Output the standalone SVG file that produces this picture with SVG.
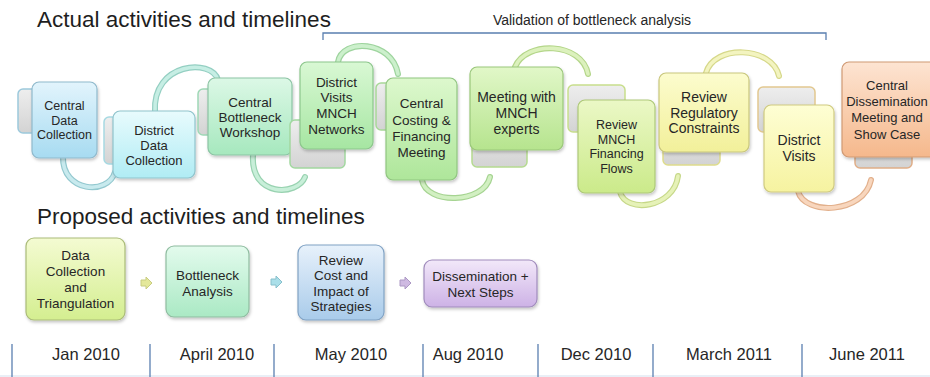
<svg xmlns="http://www.w3.org/2000/svg" width="930" height="377" viewBox="0 0 930 377">
<style>
.title{font-family:"Liberation Sans",Arial,sans-serif;font-size:22.5px;fill:#1e1e1e}
.t{font-family:"Liberation Sans",Arial,sans-serif;fill:#262626;text-anchor:middle}
.lbl{font-family:"Liberation Sans",Arial,sans-serif;font-size:16.5px;fill:#262626;text-anchor:middle}
.box{stroke-width:1.2;filter:url(#sh)}
.back{fill:url(#gray);stroke-width:1.5}
.tick{stroke:#5a7fb0;stroke-width:1.3;fill:none}
.arcO{fill:none;stroke-width:6;stroke-linecap:round}
.arcI{fill:none;stroke-width:3.6;stroke-linecap:round}
.arr{stroke-width:1}
</style>
<defs>
<filter id="sh" x="-10%" y="-10%" width="130%" height="130%"><feDropShadow dx="1" dy="2" stdDeviation="1.5" flood-color="#000" flood-opacity="0.22"/></filter>
<linearGradient id="gray" x1="0" y1="0" x2="0" y2="1"><stop offset="0" stop-color="#eeeeee"/><stop offset="1" stop-color="#d3d3d3"/></linearGradient>
<linearGradient id="g1" x1="0" y1="0" x2="0" y2="1"><stop offset="0" stop-color="#e2f4fc"/><stop offset="1" stop-color="#a7dbf1"/></linearGradient>
<linearGradient id="g2" x1="0" y1="0" x2="0" y2="1"><stop offset="0" stop-color="#e8fbfd"/><stop offset="1" stop-color="#b0ecf4"/></linearGradient>
<linearGradient id="g3" x1="0" y1="0" x2="0" y2="1"><stop offset="0" stop-color="#dcf8e6"/><stop offset="1" stop-color="#a6e8be"/></linearGradient>
<linearGradient id="g4" x1="0" y1="0" x2="0" y2="1"><stop offset="0" stop-color="#d9f8d4"/><stop offset="1" stop-color="#a6e6a2"/></linearGradient>
<linearGradient id="g5" x1="0" y1="0" x2="0" y2="1"><stop offset="0" stop-color="#ddf8cd"/><stop offset="1" stop-color="#aee69a"/></linearGradient>
<linearGradient id="g6" x1="0" y1="0" x2="0" y2="1"><stop offset="0" stop-color="#e1f7c8"/><stop offset="1" stop-color="#b6e48e"/></linearGradient>
<linearGradient id="g7" x1="0" y1="0" x2="0" y2="1"><stop offset="0" stop-color="#ebf8c6"/><stop offset="1" stop-color="#cbea8a"/></linearGradient>
<linearGradient id="g8" x1="0" y1="0" x2="0" y2="1"><stop offset="0" stop-color="#fcfcce"/><stop offset="1" stop-color="#f2f09a"/></linearGradient>
<linearGradient id="g9" x1="0" y1="0" x2="0" y2="1"><stop offset="0" stop-color="#fefed4"/><stop offset="1" stop-color="#f6f3a0"/></linearGradient>
<linearGradient id="g10" x1="0" y1="0" x2="0" y2="1"><stop offset="0" stop-color="#fde4d2"/><stop offset="1" stop-color="#f5b88c"/></linearGradient>
<linearGradient id="pA" x1="0" y1="0" x2="0" y2="1"><stop offset="0" stop-color="#f4fbd2"/><stop offset="1" stop-color="#d4ee90"/></linearGradient>
<linearGradient id="pB" x1="0" y1="0" x2="0" y2="1"><stop offset="0" stop-color="#e3fbed"/><stop offset="1" stop-color="#aae9c4"/></linearGradient>
<linearGradient id="pC" x1="0" y1="0" x2="0" y2="1"><stop offset="0" stop-color="#e7f1fb"/><stop offset="1" stop-color="#a9cbea"/></linearGradient>
<linearGradient id="pD" x1="0" y1="0" x2="0" y2="1"><stop offset="0" stop-color="#f2e8f9"/><stop offset="1" stop-color="#cdb2e6"/></linearGradient>
</defs>
<rect x="0" y="0" width="930" height="377" fill="#ffffff"/>

<g id="headings">
<text class="title" x="37" y="27">Actual activities and timelines</text>
<text class="title" x="37" y="224">Proposed activities and timelines</text>
<text class="t" x="592" y="25" style="font-size:14px">Validation of bottleneck analysis</text>
<path class="tick" d="M323 40 V33 H826 V40"/>
</g>

<g id="connectors">
<path class="arcO" stroke="#93c8cf" d="M63 157 C62 192 108 196 115 172"/>
<path class="arcI" stroke="#c8eaee" d="M63 157 C62 192 108 196 115 172"/>
<path class="arcO" stroke="#94cfc2" d="M155 112 C152 62 212 58 218 80"/>
<path class="arcI" stroke="#c6eee4" d="M155 112 C152 62 212 58 218 80"/>
<path class="arcO" stroke="#98d2b0" d="M253 155 C250 198 298 196 305 177"/>
<path class="arcI" stroke="#c8efd9" d="M253 155 C250 198 298 196 305 177"/>
<path class="arcO" stroke="#9ed49e" d="M338 62 C342 38 392 40 398 74"/>
<path class="arcI" stroke="#ccf0cc" d="M338 62 C342 38 392 40 398 74"/>
<path class="arcO" stroke="#a6d492" d="M422 180 C426 205 484 204 490 177"/>
<path class="arcI" stroke="#d2f0c2" d="M422 180 C426 205 484 204 490 177"/>
<path class="arcO" stroke="#b4d68a" d="M515 67 C526 40 582 42 588 74"/>
<path class="arcI" stroke="#dcf1bd" d="M515 67 C526 40 582 42 588 74"/>
<path class="arcO" stroke="#c6d888" d="M620 192 C626 214 674 208 678 176"/>
<path class="arcI" stroke="#e6f2b8" d="M620 192 C626 214 674 208 678 176"/>
<path class="arcO" stroke="#d6d88a" d="M706 73 C714 44 772 46 779 76"/>
<path class="arcI" stroke="#f3f4c0" d="M706 73 C714 44 772 46 779 76"/>
<path class="arcO" stroke="#e2b08c" d="M798 191 C804 216 864 214 871 180"/>
<path class="arcI" stroke="#f8d6bd" d="M798 191 C804 216 864 214 871 180"/>
<polygon class="arr" fill="#e4e89a" stroke="#c8cc80" points="141,280 146,280 146,277 152,283 146,289 146,286 141,286"/>
<polygon class="arr" fill="#aadfe9" stroke="#88c0cc" points="271,279 276,279 276,276 282,282 276,288 276,285 271,285"/>
<polygon class="arr" fill="#cfbae2" stroke="#ac98c4" points="400,280 405,280 405,277 411,283 405,289 405,286 400,286"/>
</g>

<g id="n1">
<rect class="back" x="18" y="89" width="45" height="44" rx="5" stroke="#9cc9dc"/>
<rect class="box" x="32" y="82" width="65" height="76" rx="7" fill="url(#g1)" stroke="#8fb9cc"/>
<text class="t" style="font-size:12.5px"><tspan x="64.5" y="110">Central</tspan><tspan x="64.5" y="125">Data</tspan><tspan x="64.5" y="139">Collection</tspan></text>
</g>
<g id="n2">
<rect class="back" x="104" y="117" width="45" height="47" rx="5" stroke="#a6d9e2"/>
<rect class="box" x="113" y="111" width="82" height="67" rx="7" fill="url(#g2)" stroke="#8fc3cc"/>
<text class="t" style="font-size:13px"><tspan x="154" y="135">District</tspan><tspan x="154" y="150">Data</tspan><tspan x="154" y="165">Collection</tspan></text>
</g>
<g id="n3">
<rect class="back" x="198" y="89" width="45" height="46" rx="5" stroke="#9fd8b6"/>
<rect class="box" x="208" y="78" width="84" height="77" rx="7" fill="url(#g3)" stroke="#8cc4a4"/>
<text class="t" style="font-size:13.5px"><tspan x="250" y="107">Central</tspan><tspan x="250" y="122">Bottleneck</tspan><tspan x="250" y="137">Workshop</tspan></text>
</g>
<g id="n4">
<rect class="back" x="290" y="120" width="55" height="48" rx="5" stroke="#a2d8a0"/>
<rect class="box" x="300" y="62" width="73" height="87" rx="7" fill="url(#g4)" stroke="#8cc68c"/>
<text class="t" style="font-size:13.5px"><tspan x="336.5" y="87">District</tspan><tspan x="336.5" y="102">Visits</tspan><tspan x="336.5" y="118">MNCH</tspan><tspan x="336.5" y="134">Networks</tspan></text>
</g>
<g id="n5">
<rect class="back" x="376" y="83" width="45" height="47" rx="5" stroke="#a8d898"/>
<rect class="box" x="386" y="78" width="71" height="102" rx="7" fill="url(#g5)" stroke="#90c580"/>
<text class="t" style="font-size:13.5px"><tspan x="421.5" y="108">Central</tspan><tspan x="421.5" y="125">Costing &amp;</tspan><tspan x="421.5" y="141">Financing</tspan><tspan x="421.5" y="157">Meeting</tspan></text>
</g>
<g id="n6">
<rect class="back" x="472" y="120" width="55" height="47" rx="5" stroke="#b5da90"/>
<rect class="box" x="470" y="67" width="93" height="83" rx="7" fill="url(#g6)" stroke="#9ac77a"/>
<text class="t" style="font-size:14px"><tspan x="516.5" y="102">Meeting with</tspan><tspan x="516.5" y="118">MNCH</tspan><tspan x="516.5" y="134">experts</tspan></text>
</g>
<g id="n7">
<rect class="back" x="568" y="85" width="57" height="47" rx="5" stroke="#c8de8c"/>
<rect class="box" x="578" y="100" width="77" height="93" rx="7" fill="url(#g7)" stroke="#adc878"/>
<text class="t" style="font-size:12.5px"><tspan x="616.5" y="129">Review</tspan><tspan x="616.5" y="144">MNCH</tspan><tspan x="616.5" y="158">Financing</tspan><tspan x="616.5" y="173">Flows</tspan></text>
</g>
<g id="n8">
<rect class="back" x="663" y="120" width="57" height="45" rx="5" stroke="#dedc8c"/>
<rect class="box" x="659" y="73" width="90" height="79" rx="7" fill="url(#g8)" stroke="#c8c67c"/>
<text class="t" style="font-size:14px"><tspan x="704" y="102">Review</tspan><tspan x="704" y="118">Regulatory</tspan><tspan x="704" y="133">Constraints</tspan></text>
</g>
<g id="n9">
<rect class="back" x="758" y="87" width="57" height="45" rx="5" stroke="#e2c890"/>
<rect class="box" x="764" y="105" width="70" height="87" rx="7" fill="url(#g9)" stroke="#cfca80"/>
<text class="t" style="font-size:14px"><tspan x="799" y="145">District</tspan><tspan x="799" y="161">Visits</tspan></text>
</g>
<g id="n10">
<rect class="back" x="855" y="120" width="57" height="48" rx="5" stroke="#e0ae88"/>
<rect class="box" x="842" y="62" width="96" height="95" rx="7" fill="url(#g10)" stroke="#d09a74"/>
<text class="t" style="font-size:13px"><tspan x="887" y="90">Central</tspan><tspan x="887" y="106">Dissemination</tspan><tspan x="887" y="122">Meeting and</tspan><tspan x="887" y="139">Show Case</tspan></text>
</g>

<g id="pA">
<rect class="box" x="26" y="238" width="99" height="82" rx="8" fill="url(#pA)" stroke="#aabb78"/>
<text class="t" style="font-size:13.5px"><tspan x="75.5" y="260">Data</tspan><tspan x="75.5" y="276">Collection</tspan><tspan x="75.5" y="292">and</tspan><tspan x="75.5" y="308">Triangulation</tspan></text>
</g>
<g id="pB">
<rect class="box" x="166" y="246" width="83" height="71" rx="8" fill="url(#pB)" stroke="#8fbca0"/>
<text class="t" style="font-size:13.5px"><tspan x="207.5" y="280">Bottleneck</tspan><tspan x="207.5" y="296">Analysis</tspan></text>
</g>
<g id="pC">
<rect class="box" x="298" y="245" width="86" height="75" rx="8" fill="url(#pC)" stroke="#80a2c4"/>
<text class="t" style="font-size:13.5px"><tspan x="341" y="265">Review</tspan><tspan x="341" y="280">Cost and</tspan><tspan x="341" y="296">Impact of</tspan><tspan x="341" y="311">Strategies</tspan></text>
</g>
<g id="pD">
<rect class="box" x="424" y="260" width="113" height="47" rx="8" fill="url(#pD)" stroke="#a08cbc"/>
<text class="t" style="font-size:13.5px"><tspan x="480.5" y="281">Dissemination +</tspan><tspan x="480.5" y="297">Next Steps</tspan></text>
</g>

<g id="timeline">
<line x1="0" y1="376" x2="930" y2="376" stroke="#e2eaf3" stroke-width="1.5"/>
<line class="tick" x1="12" y1="344" x2="12" y2="377"/>
<line class="tick" x1="150" y1="344" x2="150" y2="377"/>
<line class="tick" x1="274" y1="344" x2="274" y2="377"/>
<line class="tick" x1="423" y1="344" x2="423" y2="377"/>
<line class="tick" x1="538" y1="344" x2="538" y2="377"/>
<line class="tick" x1="653" y1="344" x2="653" y2="377"/>
<line class="tick" x1="802" y1="344" x2="802" y2="377"/>
<text class="lbl" x="86" y="360">Jan 2010</text>
<text class="lbl" x="217" y="360">April 2010</text>
<text class="lbl" x="351" y="360">May 2010</text>
<text class="lbl" x="468" y="360">Aug 2010</text>
<text class="lbl" x="596" y="360">Dec 2010</text>
<text class="lbl" x="729" y="360">March 2011</text>
<text class="lbl" x="867" y="360">June 2011</text>
</g>
</svg>
